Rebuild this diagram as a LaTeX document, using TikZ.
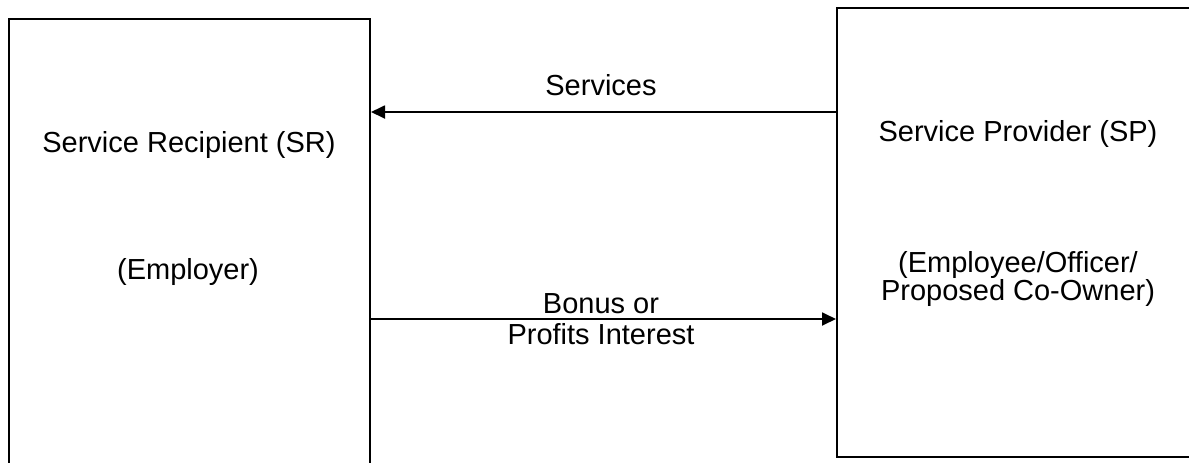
\documentclass[tikz,border=0pt]{standalone}
\usepackage{fontspec}
\setmainfont{Liberation Sans}
\usetikzlibrary{arrows.meta}
\begin{document}
\begin{tikzpicture}[x=0.5pt, y=-0.5pt,
    party/.style = {draw, line width=1pt, inner sep=0pt},
    lbl/.style = {inner sep=0pt, anchor=base, align=center,
      font=\fontsize{14.5pt}{14pt}\selectfont},
    flow/.style = {line width=0.9pt, -{Triangle[length=7pt, width=6.5pt]}}]
  \useasboundingbox (0,0) rectangle (1189,462);
  \clip (0,0) rectangle (1189,462);
  % the two parties
  \node [party, minimum width=180.5pt, minimum height=230.5pt] (sr) at (189.5,249.5) {};
  \node [party, minimum width=181.5pt, minimum height=224.5pt] (sp) at (1018.5,232.5) {};
  \node [lbl] (srname) at (189,152) {Service Recipient (SR)};
  \node [lbl] (srrole) at (188,279) {(Employer)};
  \node [lbl] (spname) at (1018,141) {Service Provider (SP)};
  \node [lbl] (sprole) at (1018,300) {(Employee/Officer/\\Proposed Co-Owner)};
  % what goes back and forth
  \coordinate (svc) at (600,112);
  \coordinate (pay) at (600,319);
  \draw [flow] (sp.west |- svc) -- (sr.east |- svc);
  \draw [flow] (sr.east |- pay) -- (sp.west |- pay);
  \node [lbl] (svclbl) at (601,95) {Services};
  \node [lbl, font=\fontsize{14.5pt}{15.5pt}\selectfont] (paylbl) at (601,344) {Bonus or\\Profits Interest};
\end{tikzpicture}
\end{document}
